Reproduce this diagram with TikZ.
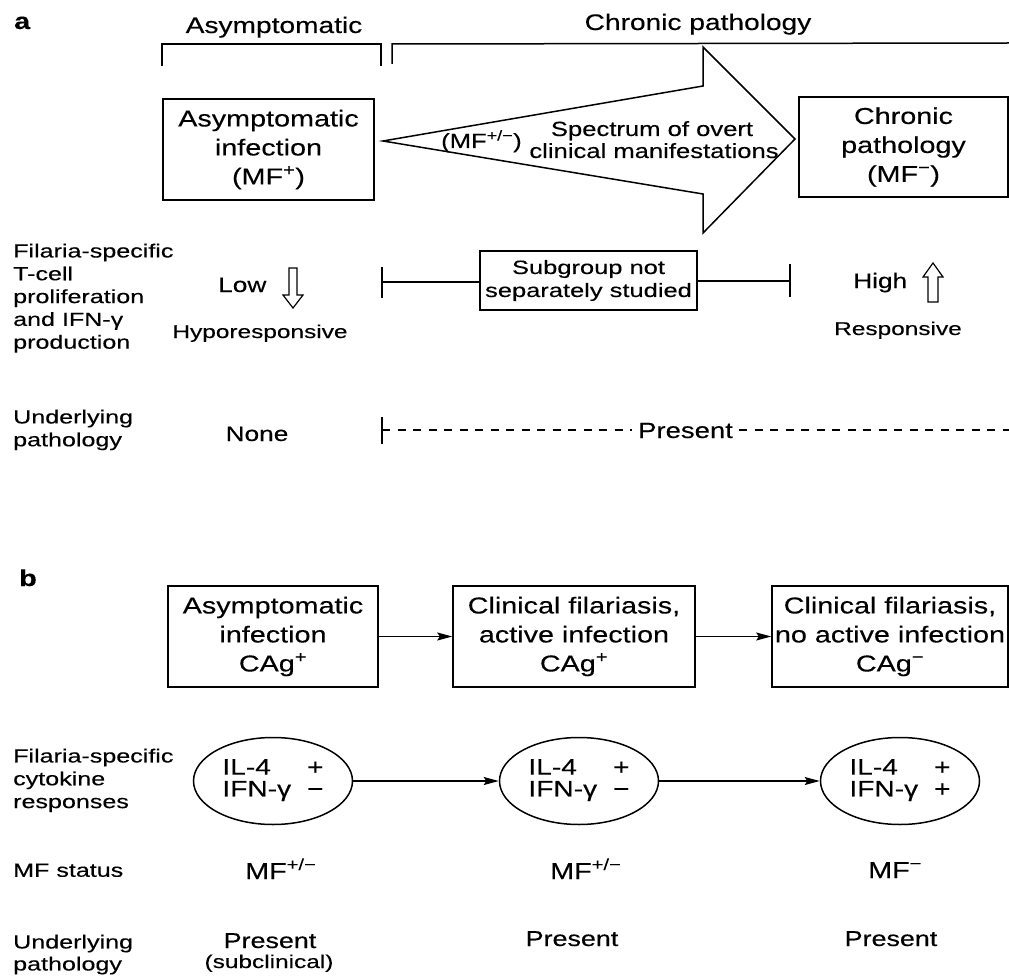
\documentclass[tikz,border=0pt]{standalone}
\usepackage{fontspec}
\setmainfont{Liberation Sans}[FakeStretch=1.25,FakeBold=0.3]
\newfontfamily\labfont{Liberation Sans}[FakeStretch=1.32,FakeBold=0.3]
\usetikzlibrary{arrows.meta,shapes.geometric}
\newcommand\spx[1]{\textsuperscript{#1}}
\newcommand\fsMain{\fontsize{23}{29}\selectfont}
\newcommand\fsHead{\fontsize{22.5}{27}\selectfont}
\newcommand\fsArr{\fontsize{20.5}{22}\selectfont}
\newcommand\fsLab{\labfont\fontsize{19}{22.8}\selectfont}
\newcommand\fsSmall{\labfont\fontsize{18.5}{21}\selectfont}
\newcommand\fsSub{\labfont\fontsize{19.3}{23}\selectfont}
\newcommand\fsLow{\fontsize{21}{25}\selectfont}
\newcommand\fsEll{\fontsize{22.5}{21}\selectfont}
\tikzset{
  ln/.style={line width=1.5pt},
  boxnode/.style={draw, line width=1.5pt, align=center, inner sep=0pt, font=\fsMain},
  ellnode/.style={draw, ellipse, line width=1.5pt, inner sep=0pt, font=\fsEll,
                  minimum width=159pt, minimum height=87pt},
  lab/.style={anchor=north west, inner sep=0pt, align=left, font=\fsLab},
  txt/.style={anchor=base, inner sep=0pt},
  conn/.style={line width=1.4pt, -{Stealth[length=15pt,width=8pt,inset=2.5pt]}},
  dsh/.style={line width=1.4pt, dash pattern=on 8pt off 7.5pt},
  hollow/.style={line width=1.2pt, line join=miter}
}
\begin{document}
\begin{tikzpicture}[x=1pt,y=-1pt]
\useasboundingbox (0,0) rectangle (1009,976);

% ---------------- part a ----------------
\node[anchor=base west, inner sep=0pt, font=\bfseries\fontsize{23}{23}\selectfont] (la) at (14,29) {a};
\node[txt, font=\fsHead] (hA) at (274,33) {Asymptomatic};
\node[txt, font=\fsHead] (hC) at (698,30) {Chronic pathology};
\draw[ln] (162,66) -- (162,44) -- (381,44) -- (381,66);
\draw[ln] (392,64) -- (392,44) -- (1009,43);

\node[boxnode, minimum width=211pt, minimum height=101pt] (A1) at (268.5,149.5)
  {Asymptomatic\\infection\\(MF\spx{+})};
\node[boxnode, minimum width=209pt, minimum height=100pt] (A3) at (903.5,147)
  {Chronic\\pathology\\(MF\spx{−})};

% big wedge arrow
\draw[ln, line join=miter] (383,141) -- (703,86) -- (703,47) -- (795,139)
   -- (703,233) -- (703,194) -- cycle;
\node[txt, font=\fsArr] (sp1) at (652,136) {Spectrum of overt};
\node[txt, font=\fsArr] (sp2) at (654,158) {clinical manifestations};
\node[anchor=base west, inner sep=0pt, font=\fontsize{20.5}{22}\selectfont] (mfpm) at (441,148) {(MF\spx{+/−})};

% row 2
\node[lab] (l2) at (13,243.5) {Filaria-specific\\T-cell\\proliferation\\and IFN-γ\\production};
\node[anchor=base west, inner sep=0pt, font=\fsLow] (low) at (218,292) {Low};
\draw[hollow] (289,268) -- (297,268) -- (297,295) -- (303,295) -- (293,308)
   -- (283,295) -- (289,295) -- cycle;
\node[txt, font=\fsSmall] (hypo) at (260,338) {Hyporesponsive};

\coordinate (t1) at (382,282);
\coordinate (t2) at (790,281);
\draw[ln] (382,267) -- (382,298);
\draw[ln] (790,264) -- (790,297);
\node[boxnode, font=\fsSub, minimum width=217pt, minimum height=59pt] (sub) at (588.5,280.5)
  {Subgroup not\\separately studied};
\draw[ln] (t1) -- (t1 -| sub.west);
\draw[ln] (t2 -| sub.east) -- (t2);

\node[anchor=base west, inner sep=0pt, font=\fsLow] (high) at (853,288) {High};
\draw[hollow] (928,302) -- (938,302) -- (938,277) -- (943,277) -- (933,263)
   -- (923,277) -- (928,277) -- cycle;
\node[txt, font=\fsSmall] (resp) at (898,335) {Responsive};

% row 3
\node[lab] (l3) at (13,409.5) {Underlying\\pathology};
\node[txt, font=\fsLow] (none) at (257,441) {None};
\coordinate (d0) at (382,430);
\coordinate (d1) at (1009,430);
\draw[ln] (382,417) -- (382,444);
\node[txt, font=\fontsize{22}{26}\selectfont, inner xsep=6pt] (pres) at (685.5,438) {Present};
\draw[dsh] (d0) -- (d0 -| pres.west);
\draw[dsh] (d1 -| pres.east) -- (d1);

% ---------------- part b ----------------
\node[anchor=base west, inner sep=0pt, font=\bfseries\fontsize{23}{23}\selectfont] (lb) at (19,586) {b};
\node[boxnode, minimum width=210pt, minimum height=101pt] (B1) at (273,636.5)
  {Asymptomatic\\infection\\CAg\spx{+}};
\node[boxnode, minimum width=242pt, minimum height=101pt] (B2) at (574,636.5)
  {Clinical filariasis,\\active infection\\CAg\spx{+}};
\node[boxnode, minimum width=236pt, minimum height=101pt] (B3) at (890,636.5)
  {Clinical filariasis,\\no active infection\\CAg\spx{−}};
\draw[conn] (B1.east) -- (B2.west);
\draw[conn] (B2.east) -- (B3.west);

\node[lab] (l4) at (13,748.5) {Filaria-specific\\cytokine\\responses};
\node[ellnode] (E1) at (273,781)
  {\begin{tabular}{@{}l@{\hspace{16pt}}c@{}}IL-4 & +\\IFN-γ & −\end{tabular}};
\node[ellnode] (E2) at (579,781)
  {\begin{tabular}{@{}l@{\hspace{16pt}}c@{}}IL-4 & +\\IFN-γ & −\end{tabular}};
\node[ellnode] (E3) at (900,781)
  {\begin{tabular}{@{}l@{\hspace{16pt}}c@{}}IL-4 & +\\IFN-γ & +\end{tabular}};
\draw[conn] (E1.east) -- (E2.west);
\draw[conn] (E2.east) -- (E3.west);

\node[lab] (l5) at (13,863.5) {MF status};
\node[anchor=base west, inner sep=0pt, font=\fsMain] (m1) at (245,879) {MF\spx{+/−}};
\node[anchor=base west, inner sep=0pt, font=\fsMain] (m2) at (550,879) {MF\spx{+/−}};
\node[anchor=base west, inner sep=0pt, font=\fsMain] (m3) at (868,878) {MF\spx{−}};

\node[lab, font=\labfont\fontsize{19}{22}\selectfont] (l6) at (13,934.5) {Underlying\\pathology};
\node[txt, font=\fontsize{21.5}{26}\selectfont] (p1) at (270,948) {Present};
\node[txt, font=\fsSmall] (p1s) at (269,968) {(subclinical)};
\node[txt, font=\fontsize{21.5}{26}\selectfont] (p2) at (572,946) {Present};
\node[txt, font=\fontsize{21.5}{26}\selectfont] (p3) at (891,946) {Present};
\end{tikzpicture}
\end{document}
